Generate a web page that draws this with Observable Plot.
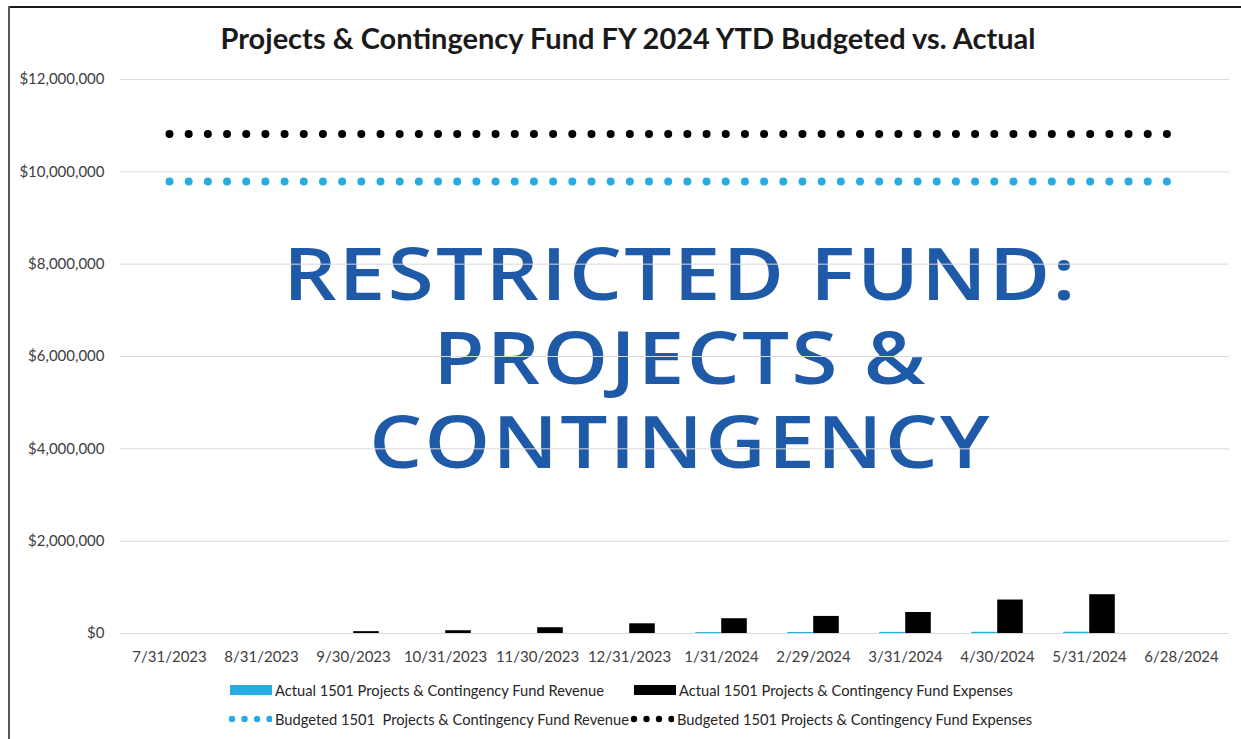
<!DOCTYPE html>
<html>
<head>
<meta charset="utf-8">
<script src="https://cdn.jsdelivr.net/npm/d3@7"></script>
<script src="https://cdn.jsdelivr.net/npm/@observablehq/plot@0.6"></script>
<style>
  html, body { margin: 0; padding: 0; background: #fff; }
  #wrap { position: relative; width: 1241px; height: 739px; overflow: hidden; font-family: Lato, "Liberation Sans", sans-serif; }
  #borderTop { position: absolute; left: 8px; top: 6px; width: 1233px; height: 2px; background: #1a1a1a; }
  #borderLeft { position: absolute; left: 8px; top: 6px; width: 2px; height: 733px; background: #595959; }
  #title { position: absolute; top: 20px; left: 0; width: 1256px; text-align: center; font-weight: 700; font-size: 29px; color: #1a1a1a; }
  #chart { position: absolute; top: 60px; left: 0; }
  .leg { position: absolute; font-size: 14.7px; color: #262626; white-space: pre; display: flex; align-items: center; height: 18px; }
  .leg svg { margin-right: 3px; }
</style>
</head>
<body>
<div id="wrap">
  <div id="borderTop"></div>
  <div id="borderLeft"></div>
  <div id="title">Projects &amp; Contingency Fund FY 2024 YTD Budgeted vs. Actual</div>
  <div id="chart"></div>
  <div id="legend"></div>
</div>
<script>
// ---- data ----
const dates = ["7/31/2023","8/31/2023","9/30/2023","10/31/2023","11/30/2023","12/31/2023","1/31/2024","2/29/2024","3/31/2024","4/30/2024","5/31/2024","6/28/2024"];
const actualRevenue  = [0, 0, 0, 0, 0, 0, 20000, 22000, 24000, 26000, 28000, 0];
const actualExpenses = [0, 0, 40000, 60000, 125000, 210000, 320000, 370000, 455000, 725000, 840000, 0];
const budgetRevenue  = [9790000, 9790000, 9790000, 9790000, 9790000, 9790000, 9790000, 9790000, 9790000, 9790000, 9790000, 9790000];
const budgetExpenses = [10820000, 10820000, 10820000, 10820000, 10820000, 10820000, 10820000, 10820000, 10820000, 10820000, 10820000, 10820000];
const yTicks = [0, 2000000, 4000000, 6000000, 8000000, 10000000, 12000000];
const watermarkLines = ["RESTRICTED FUND:", "PROJECTS &", "CONTINGENCY"];
const seriesNames = [
  "Actual 1501 Projects & Contingency Fund Revenue",
  "Actual 1501 Projects & Contingency Fund Expenses",
  "Budgeted 1501  Projects & Contingency Fund Revenue",
  "Budgeted 1501 Projects & Contingency Fund Expenses"
];
const colors = { revenue: "#29abe2", expenses: "#000000", watermark: "#1f5aa9" };

// ---- table ----
const rows = dates.map((d, i) => ({
  date: d,
  rev: actualRevenue[i],
  exp: actualExpenses[i],
  bRev: budgetRevenue[i],
  bExp: budgetExpenses[i]
}));

const width = 1241, height = 610;
const marginLeft = 120, marginRight = 12, marginTop = 19, marginBottom = 37;
const band = (width - marginLeft - marginRight) / dates.length;
const barW = 26;
const gap = (band - 2 * barW) / 2;
const dotStep = (band * (dates.length - 1)) / 53;

const fmt = d => "$" + d3.format(",")(d);

const chart = Plot.plot({
  width, height, marginLeft, marginRight, marginTop, marginBottom,
  style: { fontFamily: "Lato, 'Liberation Sans', sans-serif", fontSize: "15px", color: "#404040", background: "transparent" },
  x: { type: "band", domain: dates, padding: 0, label: null },
  y: { domain: [0, 12000000], label: null },
  marks: [
    Plot.text([watermarkLines.join("\n")], {
      frameAnchor: "middle", lineHeight: 84 / 72,
      fontSize: 72, fontWeight: 600, fontFamily: "'Open Sans', sans-serif",
      fill: colors.watermark
    }),
    Plot.gridY(yTicks, { stroke: "#d9d9d9", strokeOpacity: 1, strokeWidth: 1 }),
    Plot.axisY(yTicks, { tickSize: 0, tickPadding: 16, tickFormat: fmt, fill: "#404040", fontSize: 15, label: null }),
    Plot.axisX({ tickSize: 0, tickPadding: 18, fill: "#404040", fontSize: 15, label: null }),
    Plot.barY(rows, { x: "date", y: "rev", fill: colors.revenue, insetLeft: gap, insetRight: gap + barW }),
    Plot.barY(rows, { x: "date", y: "exp", fill: colors.expenses, insetLeft: gap + barW, insetRight: gap }),
    Plot.lineY(rows, { x: "date", y: "bRev", stroke: colors.revenue, strokeWidth: 8, strokeLinecap: "round", strokeDasharray: `0 ${dotStep}` }),
    Plot.lineY(rows, { x: "date", y: "bExp", stroke: colors.expenses, strokeWidth: 8, strokeLinecap: "round", strokeDasharray: `0 ${dotStep}` })
  ]
});
// stretch watermark horizontally about the frame centre (the reference art is wide)
const cx = (marginLeft + width - marginRight) / 2;
d3.select(chart).selectAll(`g[fill="${colors.watermark}"]`)
  .attr("transform", `translate(${cx + 6},1) scale(1.16,1) translate(${-cx},0)`)
  .selectAll("text").style("letter-spacing", "2px");
document.getElementById("chart").appendChild(chart);

// ---- legend ----
const leg = document.getElementById("legend");
function rectSwatch(color) {
  return `<svg width="42" height="10"><rect x="0" y="0" width="42" height="10" fill="${color}"/></svg>`;
}
function dotSwatch(color) {
  let s = `<svg width="44" height="10">`;
  [4, 16.5, 29, 41.5].forEach(c => { s += `<circle cx="${c}" cy="5" r="3.2" fill="${color}"/>`; });
  return s + `</svg>`;
}
const items = [
  { left: 230, top: 681, sw: rectSwatch(colors.revenue), text: seriesNames[0] },
  { left: 634, top: 681, sw: rectSwatch(colors.expenses), text: seriesNames[1] },
  { left: 228, top: 710, sw: dotSwatch(colors.revenue), text: seriesNames[2] },
  { left: 630, top: 710, sw: dotSwatch(colors.expenses), text: seriesNames[3] }
];
items.forEach(it => {
  const div = document.createElement("div");
  div.className = "leg";
  div.style.left = it.left + "px";
  div.style.top = it.top + "px";
  div.innerHTML = it.sw + "<span></span>";
  div.querySelector("span").textContent = it.text;
  leg.appendChild(div);
});
</script>
</body>
</html>
